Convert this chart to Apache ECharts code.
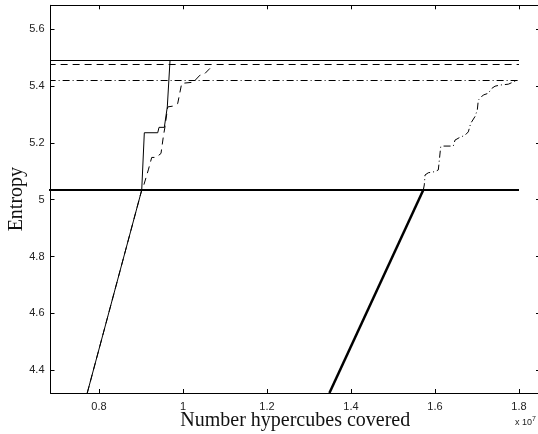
<!DOCTYPE html>
<html>
<head>
<meta charset="utf-8">
<script src="https://cdn.jsdelivr.net/npm/echarts@6/dist/echarts.min.js"></script>
<style>
html,body{margin:0;padding:0;background:#fff;}
#chart{width:538px;height:434px;}
</style>
</head>
<body>
<div id="chart"></div>
<script>
// ---- data ----
const xTicks = [0.8, 1, 1.2, 1.4, 1.6, 1.8];
const yTicks = [4.4, 4.6, 4.8, 5, 5.2, 5.4, 5.6];
const xRange = [0.6845, 1.85];
const yRange = [4.319, 5.685];

// horizontal reference levels
const levelThinSolid = 5.4905;
const levelDashed = 5.4764;
const levelDashDot = 5.420;
const levelThick = 5.034;
const levelStart = 0.68;
const levelEnd = 1.8;

// thin solid curve
const thinSolidCurve = [
  [0.772, 4.319], [0.9017, 5.034], [0.9079, 5.236], [0.9398, 5.236],
  [0.9429, 5.255], [0.9555, 5.255], [0.9626, 5.327], [0.969, 5.489]
];
// dashed curve
const dashedCurve = [
  [0.772, 4.319], [0.9017, 5.034], [0.9055, 5.046], [0.9174, 5.105], [0.9255, 5.149],
  [0.9357, 5.149], [0.9476, 5.163], [0.9531, 5.222], [0.9571, 5.257],
  [0.9636, 5.327], [0.9769, 5.330], [0.9874, 5.339], [0.9969, 5.410],
  [1.0245, 5.414], [1.0405, 5.439], [1.0524, 5.445], [1.0643, 5.463], [1.0667, 5.474]
];
// dash-dot curve
const dashDotCurve = [
  [1.5721, 5.034], [1.5745, 5.052], [1.5762, 5.087], [1.5840, 5.095], [1.6000, 5.099],
  [1.6079, 5.105], [1.6136, 5.187], [1.6198, 5.189], [1.6436, 5.189], [1.6476, 5.210],
  [1.6595, 5.220], [1.6714, 5.227], [1.6793, 5.239], [1.6850, 5.269], [1.6952, 5.293],
  [1.7007, 5.316], [1.7031, 5.351], [1.7150, 5.369], [1.7269, 5.375], [1.7350, 5.392],
  [1.7429, 5.400], [1.7548, 5.404], [1.7745, 5.407], [1.7945, 5.420]
];
// thick solid curve
const thickCurve = [[1.3486, 4.319], [1.5721, 5.034]];

// ---- chart ----
const chart = echarts.init(document.getElementById('chart'), null, {renderer: 'canvas'});
const black = '#000';
const tickFont = {fontFamily: 'Liberation Sans, Arial, sans-serif', fontSize: 11, color: '#222'};
const nameFont = {fontFamily: 'Liberation Serif, Times New Roman, serif', fontSize: 20, color: '#111'};

function line(data, width, type) {
  return {
    type: 'line', data: data, showSymbol: false, symbol: 'none', clip: true,
    animation: false, silent: true,
    lineStyle: {color: black, width: width, type: type || 'solid'}
  };
}
function level(y) { return [[levelStart, y], [levelEnd, y]]; }

chart.setOption({
  animation: false,
  grid: {left: 50.5, top: 5.3, width: 489.5, height: 387.7, containLabel: false, outerBoundsMode: 'none'},
  xAxis: [
    {
      type: 'value', min: xRange[0], max: xRange[1], position: 'bottom',
      axisLine: {show: true, onZero: false, lineStyle: {color: black, width: 1}},
      axisTick: {show: true, inside: true, length: 4, customValues: xTicks, lineStyle: {color: black}},
      axisLabel: Object.assign({show: true, margin: 8, customValues: xTicks,
        formatter: v => String(+v.toFixed(2))}, tickFont),
      splitLine: {show: false},
      name: 'Number hypercubes covered', nameLocation: 'middle', nameGap: 18,
      nameMoveOverlap: false,
      nameTextStyle: nameFont
    },
    {
      type: 'value', min: xRange[0], max: xRange[1], position: 'top',
      axisLine: {show: true, onZero: false, lineStyle: {color: black, width: 1}},
      axisTick: {show: true, inside: true, length: 4, customValues: xTicks, lineStyle: {color: black}},
      axisLabel: {show: false}, splitLine: {show: false}
    }
  ],
  yAxis: [
    {
      type: 'value', min: yRange[0], max: yRange[1], position: 'left',
      axisLine: {show: true, onZero: false, lineStyle: {color: black, width: 1}},
      axisTick: {show: true, inside: true, length: 4, customValues: yTicks, lineStyle: {color: black}},
      axisLabel: Object.assign({show: true, margin: 6, customValues: yTicks,
        formatter: v => String(+v.toFixed(2))}, tickFont),
      splitLine: {show: false},
      name: 'Entropy', nameLocation: 'middle', nameGap: 24, nameRotate: 90,
      nameMoveOverlap: false,
      nameTextStyle: nameFont
    },
    {
      type: 'value', min: yRange[0], max: yRange[1], position: 'right',
      axisLine: {show: true, onZero: false, lineStyle: {color: black, width: 1}},
      axisTick: {show: true, inside: true, length: 4, customValues: yTicks, lineStyle: {color: black}},
      axisLabel: {show: false}, splitLine: {show: false}
    }
  ],
  graphic: [{
    type: 'text', left: 515, top: 416,
    style: {
      text: 'x 10{sup|7}',
      rich: {sup: {fontSize: 7, verticalAlign: 'top', padding: [0, 0, 6, 0]}},
      fontFamily: 'Liberation Sans, Arial, sans-serif', fontSize: 9, fill: '#222'
    }
  }],
  series: [
    line(level(levelThinSolid), 1),
    line(level(levelDashed), 1, [7, 5]),
    line(level(levelDashDot), 1, [7, 3, 1, 3]),
    line(level(levelThick), 2),
    line(thinSolidCurve, 1),
    line(dashedCurve, 1, [7, 5]),
    line(dashDotCurve, 1, [7, 3, 1, 3]),
    line(thickCurve, 2.5)
  ]
});
</script>
</body>
</html>
